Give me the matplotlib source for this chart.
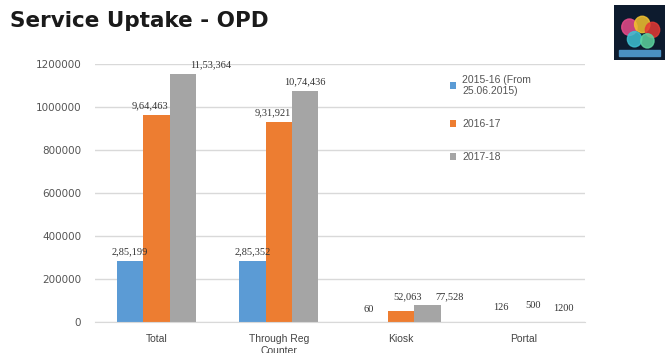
import numpy as np
import matplotlib.pyplot as plt
from matplotlib.patches import Circle

# Data
categories = ['Total', 'Through Reg\nCounter', 'Kiosk', 'Portal']
series_names = ['2015-16 (From\n25.06.2015)', '2016-17', '2017-18']
vals_1516 = [285199, 285352, 60, 126]
vals_1617 = [964463, 931921, 52063, 500]
vals_1718 = [1153364, 1074436, 77528, 1200]
labels_1516 = ['2,85,199', '2,85,352', '60', '126']
labels_1617 = ['9,64,463', '9,31,921', '52,063', '500']
labels_1718 = ['11,53,364', '10,74,436', '77,528', '1200']

colors = ['#5B9BD5', '#ED7D31', '#A5A5A5']

fig = plt.figure(figsize=(6.66, 3.53), dpi=100)
fig.patch.set_facecolor('white')

ax = fig.add_axes([0.143, 0.088, 0.735, 0.731])

x = np.arange(len(categories))
w = 0.215
all_vals = [vals_1516, vals_1617, vals_1718]
all_labels = [labels_1516, labels_1617, labels_1718]
# label nudges in pixels (dx, dy) per series and category
nudges = [
    [(0, 0), (0, 0), (-6, 4), (4, 6)],
    [(-6, 0), (-6, 0), (6, 5), (10, 8)],
    [(28, 0), (0, 0), (22, 0), (14, 5)],
]

for i, (vals, labs) in enumerate(zip(all_vals, all_labels)):
    pos = x + (i - 1) * w
    ax.bar(pos, vals, width=w, color=colors[i], label=series_names[i], zorder=2)
    for j, (p, v, t) in enumerate(zip(pos, vals, labs)):
        dx, dy = nudges[i][j]
        ax.annotate(t, (p, v), xytext=(dx * 0.72, 3 + dy * 0.72),
                    textcoords='offset points', ha='center', va='bottom',
                    fontsize=7.5, family='Liberation Serif', color='#333333',
                    annotation_clip=False)

ax.set_xlim(-0.5, 3.5)
ax.set_ylim(0, 1200000)
ax.set_yticks(np.arange(0, 1200001, 200000))
ax.set_yticklabels([str(v) for v in np.arange(0, 1200001, 200000)],
                   fontsize=7.5, color='#555555', family='DejaVu Sans')
ax.set_xticks(x)
ax.set_xticklabels(categories, fontsize=7.5, color='#444444', family='Liberation Sans')
ax.tick_params(axis='y', length=0, pad=10)
ax.tick_params(axis='x', length=0, pad=9)
ax.grid(axis='y', color='#D9D9D9', linewidth=1, zorder=0)
for s in ['top', 'right', 'left']:
    ax.spines[s].set_visible(False)
ax.spines['bottom'].set_color('#D9D9D9')

leg = ax.legend(loc='upper left', bbox_to_anchor=(0.705, 0.995), frameon=False,
                handlelength=0.6, handleheight=0.6,
                labelspacing=2.2, handletextpad=0.6,
                prop={'family': 'Liberation Sans', 'size': 7.5})
for t in leg.get_texts():
    t.set_color('#555555')

fig.text(0.015, 0.94, 'Service Uptake - OPD', fontsize=15.5, fontweight='heavy',
         color='#1a1a1a', va='center', ha='left')

# logo block in the top right corner
logo = fig.add_axes([0.922, 0.83, 0.077, 0.155])
logo.set_xlim(0, 1)
logo.set_ylim(0, 1)
logo.set_facecolor('#0d1b2e')
logo.set_xticks([])
logo.set_yticks([])
for s in logo.spines.values():
    s.set_visible(False)
for (cx, cy, r, c) in [(0.3, 0.6, 0.15, '#e94b8a'), (0.55, 0.65, 0.15, '#f2c12e'),
                       (0.75, 0.55, 0.14, '#e53935'), (0.4, 0.38, 0.14, '#3ec1d3'),
                       (0.65, 0.35, 0.13, '#5dd39e')]:
    logo.add_patch(Circle((cx, cy), r, color=c, alpha=0.85))
logo.add_patch(plt.Rectangle((0.1, 0.08), 0.8, 0.1, color='#4a90c2'))

fig.savefig('out.png', dpi=100)
